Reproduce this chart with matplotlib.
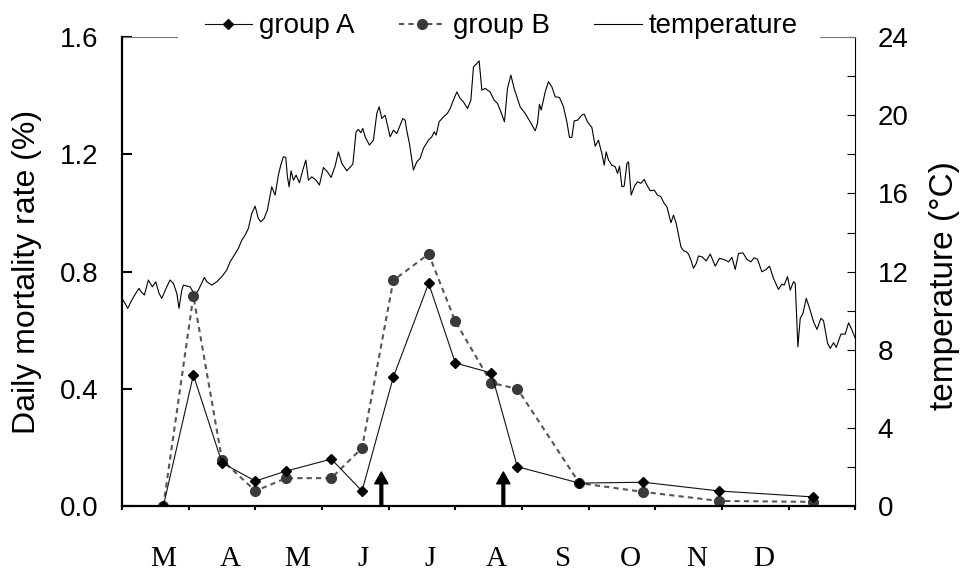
import numpy as np
import matplotlib
matplotlib.use('Agg')
import matplotlib.pyplot as plt
from matplotlib.lines import Line2D

# month labels (axis runs in month units, 0 = start of March)
months = ['M', 'A', 'M', 'J', 'J', 'A', 'S', 'O', 'N', 'D']

# sampling dates and daily mortality rate (%)
sample_x = [0.62, 1.07, 1.50, 2.00, 2.46, 3.14, 3.60, 4.07, 4.60, 5.00,
            5.54, 5.93, 6.86, 7.82, 8.96, 10.36]
group_a = [0.0, 0.447, 0.147, 0.085, 0.119, 0.160, 0.051, 0.44, 0.76, 0.488,
           0.454, 0.134, 0.078, 0.081, 0.051, 0.031]
group_b = [0.0, 0.717, 0.157, 0.051, 0.095, 0.095, 0.198, 0.77, 0.86, 0.63,
           0.42, 0.40, 0.078, 0.048, 0.017, 0.014]

# arrows (events)
arrow_x = [3.89, 5.72]
arrow_h = 0.116

# water temperature (deg C)
temp_x = [0.00, 0.086, 0.146, 0.206, 0.255, 0.285, 0.335, 0.395, 0.455, 0.506,
          0.555, 0.596, 0.671, 0.720, 0.770, 0.821, 0.855, 0.896, 0.920, 0.971,
          1.020, 1.095, 1.145, 1.235, 1.271, 1.346, 1.421, 1.496, 1.571, 1.621,
          1.685, 1.745, 1.796, 1.846,
          1.895, 1.946, 1.996, 2.045, 2.081, 2.131, 2.180, 2.246, 2.296, 2.345,
          2.381, 2.420, 2.456, 2.481, 2.506, 2.536, 2.571, 2.611, 2.661, 2.712,
          2.757, 2.796, 2.847, 2.911, 2.961, 3.021, 3.081, 3.136, 3.196, 3.246,
          3.297, 3.372, 3.462, 3.511, 3.546, 3.582, 3.612,
          3.647, 3.711, 3.771, 3.822, 3.857, 3.897, 3.947, 4.022, 4.071, 4.122,
          4.212, 4.247, 4.272, 4.311, 4.371, 4.422, 4.472, 4.521, 4.596, 4.647,
          4.682, 4.712, 4.757, 4.821, 4.881, 4.922, 4.971, 5.023, 5.072, 5.122,
          5.182, 5.233, 5.272, 5.312, 5.357, 5.398, 5.447,
          5.522, 5.582, 5.632, 5.683, 5.737, 5.782, 5.833, 5.882, 5.972, 6.047,
          6.122, 6.198, 6.232, 6.262, 6.288, 6.348, 6.397, 6.448, 6.498, 6.562,
          6.622, 6.673, 6.712, 6.748, 6.783, 6.832, 6.898, 6.933, 6.982, 7.048,
          7.098, 7.147, 7.198,
          7.233, 7.263, 7.298, 7.348, 7.398, 7.433, 7.463, 7.499, 7.533, 7.574,
          7.598, 7.638, 7.688, 7.733, 7.784, 7.833, 7.874, 7.923, 7.983, 8.033,
          8.084, 8.133, 8.174, 8.234, 8.273, 8.313, 8.348, 8.384, 8.423, 8.464,
          8.498, 8.534, 8.573, 8.614, 8.648, 8.699, 8.764, 8.824, 8.899, 8.963,
          9.049, 9.098, 9.149, 9.199, 9.248, 9.314, 9.374, 9.434, 9.484, 9.533,
          9.599, 9.664, 9.713, 9.773, 9.848, 9.899, 9.934, 9.983, 10.024, 10.073,
          10.099, 10.139, 10.174, 10.215, 10.264, 10.314, 10.374, 10.425, 10.485,
          10.524, 10.584, 10.624, 10.674, 10.714, 10.785, 10.849, 10.899, 10.950,
          11.0]
temp_c = [10.63, 10.12, 10.54, 10.89, 11.14, 10.97, 10.80, 11.57, 11.22, 11.48,
          10.89, 10.63, 11.22, 11.57, 11.40, 10.89, 10.12, 11.05, 11.31, 11.26,
          11.22, 10.80, 11.05, 11.70, 11.48, 11.31, 11.48, 11.74, 12.08, 12.50,
          12.85, 13.19, 13.61, 13.87,
          14.21, 14.98, 15.35, 14.72, 14.55, 14.72, 15.15, 16.34, 15.92, 16.94,
          17.45, 17.88, 17.85, 16.85, 16.34, 17.16, 16.68, 16.94, 16.55, 17.20,
          17.71, 16.68, 16.85, 16.68, 16.43, 17.33, 17.11, 16.82, 17.40, 18.13,
          17.54, 17.16, 17.50, 19.16, 19.28, 19.11, 19.33,
          18.90, 18.48, 18.73, 20.10, 20.44, 19.84, 20.01, 18.90, 19.24, 19.07,
          19.84, 19.75, 19.21, 18.56, 17.20, 17.62, 17.80, 18.31, 18.73, 18.90,
          19.16, 18.99, 19.67, 19.92, 20.10, 20.35, 20.78, 21.20, 20.87, 20.69,
          20.35, 20.78, 22.48, 22.62, 22.79, 21.29, 21.38,
          21.20, 20.78, 20.61, 20.18, 19.67, 21.38, 22.06, 21.38, 20.44, 20.10,
          19.67, 19.21, 19.59, 20.57, 20.27, 21.20, 21.72, 21.46, 20.95, 20.92,
          20.44, 19.67, 18.87, 18.87, 19.72, 19.75, 20.01, 20.06, 19.67, 19.38,
          18.42, 18.73, 18.05,
          17.45, 18.13, 17.71, 17.45, 17.37, 17.03, 17.40, 16.34, 16.38, 17.54,
          17.62, 15.92, 16.38, 16.60, 16.52, 16.72, 16.43, 16.14, 16.17, 15.92,
          15.83, 15.49, 15.32, 14.50, 14.89, 14.47, 13.87, 13.27, 13.07, 13.02,
          12.90, 12.59, 12.17, 12.42, 12.80, 12.76, 12.55, 12.90, 12.28, 12.68,
          12.59, 12.50, 12.73, 12.11, 12.93, 12.96, 12.63, 12.50, 12.71, 12.63,
          11.99, 12.11, 12.28, 11.65, 11.09, 11.36, 11.31, 11.74, 11.05, 11.48,
          11.40, 8.15, 9.61, 9.86, 10.63, 10.12, 9.43, 9.04, 9.61,
          9.48, 8.33, 8.07, 8.36, 8.12, 8.80, 8.80, 9.38, 9.01,
          8.58]

plt.rc('font', family='Liberation Sans', size=20)

fig = plt.figure(figsize=(9.61, 5.73), dpi=100)
ax = fig.add_axes([0.127, 0.117, 0.763, 0.818])
ax2 = ax.twinx()

# temperature on the right axis, drawn underneath
ax2.plot(temp_x, temp_c, color='black', lw=0.8)
ax2.set_ylim(0, 24)
ax2.set_yticks(np.arange(0, 25, 4))
ax2.set_yticks(np.arange(2, 24, 4), minor=True)
ax2.tick_params(axis='y', which='both', direction='in', length=6, width=0.8,
                pad=16, labelsize=20)
ax2.set_ylabel('temperature (\u00b0C)', fontsize=24)
ax2.yaxis.set_label_coords(1.1, 0.47)
for s in ['top', 'left', 'bottom']:
    ax2.spines[s].set_visible(False)
ax2.spines['right'].set_linewidth(0.8)

# mortality on the left axis, on top
ax.set_zorder(ax2.get_zorder() + 1)
ax.patch.set_visible(False)
ax.plot(sample_x, group_b, color='#555555', lw=1.5, ls=(0, (2.5, 2)),
        marker='o', ms=7, mfc='#3a3a3a', mec='#3a3a3a')
ax.plot(sample_x, group_a, color='#111111', lw=0.8,
        marker='D', ms=5, mfc='black', mec='black')
for xa in arrow_x:
    ax.annotate('', xy=(xa, arrow_h), xytext=(xa, 0),
                arrowprops=dict(width=2, headwidth=9.5, headlength=8.5,
                                facecolor='black', edgecolor='black', shrink=0))

ax.set_xlim(0, 11)
ax.set_ylim(0, 1.6)
ax.set_yticks(np.arange(0, 1.61, 0.4))
ax.set_yticklabels(['%.1f' % v for v in np.arange(0, 1.61, 0.4)])
ax.tick_params(axis='y', direction='in', length=7, width=1.5, pad=17,
               labelsize=20)
ax.set_ylabel('Daily mortality rate (%)', fontsize=23)
ax.yaxis.set_label_coords(-0.109, 0.5)

ax.set_xticks(np.arange(0, 12))
ax.set_xticklabels([])
ax.set_xticks(np.arange(len(months)) + 0.62, minor=True)
ax.set_xticklabels(months, minor=True, family='Liberation Serif', fontsize=21)
ax.tick_params(axis='x', which='major', direction='out', length=3, width=1.5)
ax.tick_params(axis='x', which='minor', length=0, pad=29)

ax.spines['left'].set_linewidth(1.6)
ax.spines['bottom'].set_linewidth(1.6)
ax.spines['right'].set_visible(False)
ax.spines['top'].set_visible(False)
# top border only shows at the ends (legend sits over it)
ax.plot([0, 0.075], [1, 1], transform=ax.transAxes, color='#777777', lw=0.8,
        clip_on=False)
ax.plot([0.952, 1], [1, 1], transform=ax.transAxes, color='#777777', lw=0.8,
        clip_on=False)

handles = [
    Line2D([], [], color='#111111', lw=0.8, marker='D', ms=5, mfc='black'),
    Line2D([], [], color='#555555', lw=1.5, ls=(0, (2.5, 2)), marker='o', ms=7,
           mfc='#3a3a3a', mec='#3a3a3a'),
    Line2D([], [], color='black', lw=0.8),
]
ax.legend(handles, ['group A', 'group B', 'temperature'], ncol=3,
          loc='center', bbox_to_anchor=(0.517, 1.023), frameon=False,
          fontsize=20, handlelength=1.7, handletextpad=0.25,
          columnspacing=1.6, borderaxespad=0)

fig.savefig('out.png', dpi=100)
